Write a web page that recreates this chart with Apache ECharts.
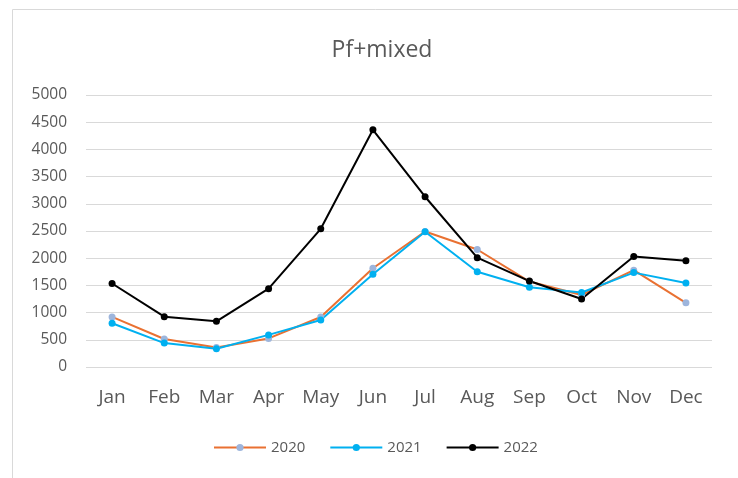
<!DOCTYPE html>
<html>
<head>
<meta charset="utf-8">
<script src="https://cdn.jsdelivr.net/npm/echarts@6/dist/echarts.min.js"></script>
<style>
  html, body { margin: 0; padding: 0; background: #fff; }
  #chart { width: 738px; height: 478px; }
</style>
</head>
<body>
<div id="chart"></div>
<script>
const months = ['Jan', 'Feb', 'Mar', 'Apr', 'May', 'Jun', 'Jul', 'Aug', 'Sep', 'Oct', 'Nov', 'Dec']
const y2020 = [920, 515, 360, 525, 920, 1815, 2490, 2160, 1570, 1325, 1780, 1180]
const y2021 = [805, 440, 335, 590, 865, 1705, 2485, 1750, 1465, 1370, 1735, 1545]
const y2022 = [1535, 925, 840, 1440, 2540, 4360, 3130, 2010, 1580, 1250, 2030, 1955]

const font = '"Open Sans", "Noto Sans", sans-serif'
const textColor = '#595959'

const chart = echarts.init(document.getElementById('chart'))

// 折线系列
const makeSeries = (name, data, lineColor, dotColor) => ({
  name,
  type: 'line',
  data,
  symbol: 'circle',
  symbolSize: 7,
  lineStyle: { width: 2, color: lineColor },
  itemStyle: { color: dotColor },
  emphasis: { disabled: true }
})

chart.setOption({
  animation: false,
  graphic: [{
    type: 'rect',
    shape: { x: 12.5, y: 9.5, width: 740, height: 480 },
    style: { fill: 'none', stroke: '#d9d9d9', lineWidth: 1 },
    silent: true
  }],
  title: {
    text: 'Pf+mixed',
    left: 377,
    textAlign: 'center',
    top: 34,
    textStyle: { fontFamily: font, fontSize: 23, fontWeight: 'normal', color: textColor }
  },
  legend: {
    bottom: 18,
    left: 208,
    itemWidth: 52,
    itemHeight: 9,
    itemGap: 24,
    textStyle: { fontFamily: font, fontSize: 15, color: textColor }
  },
  grid: { left: 86, right: 26, top: 95, bottom: 111 },
  xAxis: {
    type: 'category',
    data: months,
    axisLine: { show: false },
    axisTick: { show: false },
    axisLabel: { fontFamily: font, fontSize: 19, color: textColor, margin: 21 }
  },
  yAxis: {
    type: 'value',
    min: 0,
    max: 5000,
    interval: 500,
    axisLabel: { fontFamily: font, fontSize: 15.5, color: textColor, margin: 19, formatter: v => String(v) },
    splitLine: { lineStyle: { color: '#d9d9d9', width: 1 } }
  },
  series: [
    makeSeries('2020', y2020, '#e97132', '#9db5dc'),
    makeSeries('2021', y2021, '#00b0f0', '#00b0f0'),
    makeSeries('2022', y2022, '#000000', '#000000')
  ]
})
</script>
</body>
</html>
